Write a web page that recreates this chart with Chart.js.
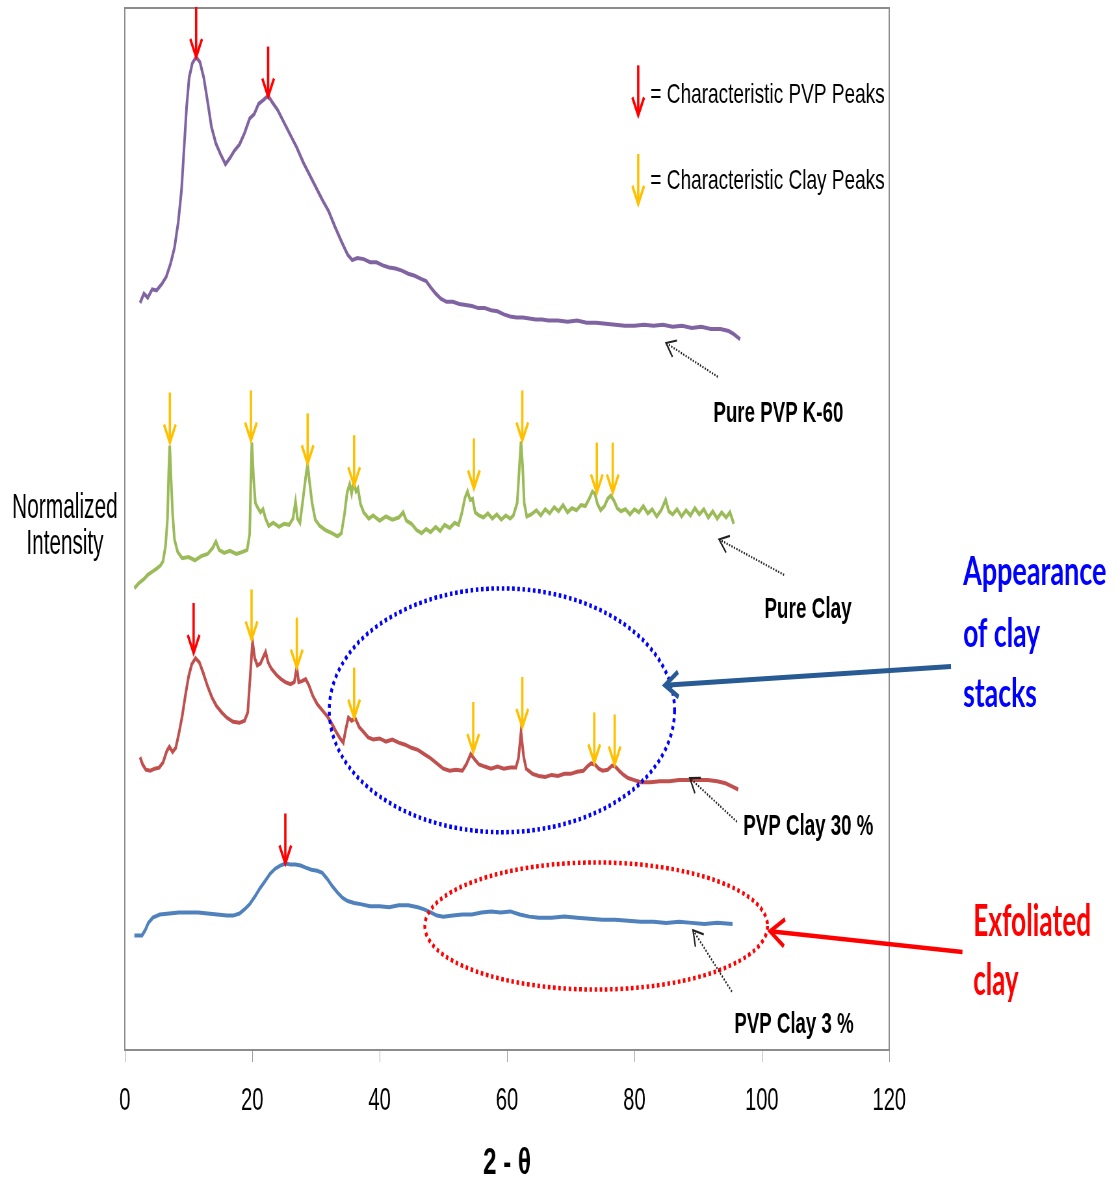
<!DOCTYPE html>
<html>
<head>
<meta charset="utf-8">
<title>XRD patterns</title>
<script src="https://cdn.jsdelivr.net/npm/chart.js@4.4.1/dist/chart.umd.min.js"></script>
<style>
  html, body { margin: 0; padding: 0; background: #fff; overflow: hidden; }
  /* the reference is a horizontally squeezed picture, so the whole chart is squeezed too */
  #wrap { width: 1718px; height: 1180px; transform: scaleX(0.65); transform-origin: 0 0; }
</style>
</head>
<body>
<div id="wrap"><canvas id="xrdChart"></canvas></div>
<script>
// x axis ticks
const xTicks = [0, 20, 40, 60, 80, 100, 120];

// Pure PVP K-60 (offset trace, top)
const pvpX = [2.4, 3.0, 3.6, 4.3, 5.0, 5.8, 6.5, 7.2, 7.8, 8.4, 8.9, 9.3, 9.7, 10.1, 10.6, 11.2, 11.8, 12.4, 13.0, 13.6,
  14.3, 15.0, 15.8, 16.5, 17.2, 18.0, 18.8, 19.6, 20.3, 21.0, 21.8, 22.5, 23.2, 24.0, 25.0, 26.0, 27.0, 28.0, 29.0, 30.0,
  31.0, 32.0, 33.0, 34.0, 35.0, 35.7, 36.5, 37.5, 38.5, 39.5, 40.5, 41.5, 42.5, 43.5, 44.5, 45.5, 46.5, 47.3, 48.0, 48.8,
  49.6, 50.5, 51.5, 52.5, 53.5, 54.5, 55.5, 56.5, 57.5, 58.5, 59.5, 60.5, 61.5, 62.5, 63.5, 64.5, 65.5, 66.5, 68.0, 69.5,
  71.0, 72.5, 74.0, 75.5, 77.0, 78.5, 80.0, 81.5, 83.0, 84.5, 86.0, 87.5, 89.0, 90.5, 92.0, 93.5, 94.8, 95.6, 96.6];
const pvpY = [71.7, 72.6, 72.2, 73.0, 72.9, 73.5, 74.2, 75.5, 77.0, 79.5, 82.5, 86.5, 90.5, 93.3, 94.7, 95.3, 94.8, 93.3, 91.0, 88.6,
  87.0, 86.0, 85.0, 85.6, 86.3, 86.9, 88.0, 89.4, 89.8, 90.8, 91.2, 91.6, 90.9, 90.2, 89.0, 87.8, 86.6, 85.2, 84.0, 82.8,
  81.6, 80.5, 79.0, 77.6, 76.3, 75.8, 76.0, 75.9, 75.6, 75.6, 75.3, 75.1, 75.0, 74.8, 74.5, 74.3, 74.0, 73.8, 73.2, 72.6,
  72.1, 71.8, 71.8, 71.6, 71.5, 71.4, 71.2, 71.2, 71.0, 70.9, 70.6, 70.4, 70.3, 70.3, 70.2, 70.1, 70.1, 70.0, 70.0, 69.9,
  70.0, 69.8, 69.8, 69.7, 69.6, 69.5, 69.5, 69.6, 69.5, 69.6, 69.4, 69.5, 69.3, 69.4, 69.2, 69.2, 69.0, 68.7, 68.2];

// Pure Clay
const clayX = [1.5, 2.2, 3.0, 3.6, 4.3, 5.0, 5.6, 6.0, 6.4, 6.7, 6.9, 7.05, 7.25, 7.5, 7.8, 8.3, 9.0, 10.0, 11.0, 12.0,
  13.0, 13.8, 14.3, 14.8, 15.6, 16.5, 17.5, 18.5, 19.2, 19.6, 19.8, 19.95, 20.2, 20.5, 20.9, 21.3, 21.7, 22.1, 22.6, 23.3,
  24.2, 25.0, 25.8, 26.4, 26.8, 27.1, 27.5, 28.0, 28.4, 28.7, 29.0, 29.4, 29.9, 30.6, 31.5, 32.5, 33.4, 34.0, 34.5, 34.9,
  35.3, 35.6, 35.9, 36.3, 36.6, 37.0, 37.5, 38.3, 39.0, 40.0, 41.0, 42.0, 43.0, 43.7, 44.2, 45.0, 45.8, 46.6, 47.3, 48.0,
  48.8, 49.5, 50.2, 51.0, 51.8, 52.4, 52.9, 53.4, 53.8, 54.2, 54.6, 55.0, 55.6, 56.3, 57.0, 57.7, 58.4, 59.1, 59.8, 60.5,
  61.0, 61.6, 61.95, 62.2, 62.45, 62.7, 63.1, 63.8, 64.6, 65.3, 66.0, 66.7, 67.4, 68.1, 68.8, 69.5, 70.2, 70.9, 71.6, 72.3,
  72.9, 73.4, 73.8, 74.2, 74.7, 75.3, 75.8, 76.3, 76.8, 77.3, 77.9, 78.6, 79.3, 80.0, 80.7, 81.4, 82.1, 82.8, 83.5, 84.2,
  84.9, 85.4, 86.0, 86.7, 87.4, 88.1, 88.8, 89.5, 90.2, 90.9, 91.6, 92.3, 93.0, 93.7, 94.4, 95.0, 95.6];
const clayY = [44.3, 44.8, 45.2, 45.6, 45.9, 46.2, 46.5, 46.9, 48.4, 51.0, 55.5, 58.0, 55.0, 51.5, 49.0, 47.8, 47.2, 47.3, 47.0, 47.4,
  47.6, 48.2, 48.8, 48.0, 47.7, 47.9, 47.6, 47.8, 48.0, 49.5, 55.0, 58.3, 55.0, 52.5, 52.0, 51.6, 51.9, 51.0, 50.3, 50.6,
  50.2, 50.5, 50.4, 51.0, 52.6, 51.0, 50.6, 53.0, 55.0, 56.2, 54.5, 52.5, 50.9, 50.3, 49.9, 49.6, 49.3, 49.6, 51.5, 53.5,
  54.3, 53.4, 54.5, 53.6, 53.9, 52.4, 51.6, 51.0, 51.3, 50.8, 51.2, 50.9, 51.1, 51.6, 50.8, 50.5, 49.9, 49.6, 50.0, 49.7,
  50.2, 49.8, 50.4, 50.1, 50.6, 50.4, 51.5, 53.0, 53.6, 52.8, 52.9, 51.6, 51.3, 51.1, 51.5, 51.0, 51.4, 50.9, 51.3, 51.0,
  51.3, 52.5, 56.0, 58.4, 56.0, 52.5, 51.2, 51.4, 51.8, 51.3, 51.9, 51.5, 52.1, 51.7, 52.3, 51.6, 52.0, 51.8, 52.3, 52.2,
  52.9, 53.6, 53.4, 52.4, 51.8, 52.2, 52.9, 53.2, 52.7, 52.0, 51.7, 51.9, 51.4, 51.9, 51.6, 52.2, 51.5, 51.9, 51.2, 51.8,
  52.8, 51.7, 51.4, 51.9, 51.2, 51.8, 51.3, 52.0, 51.4, 51.9, 51.1, 51.7, 51.0, 51.6, 51.1, 51.6, 50.5];

// PVP Clay 30 %
const clay30X = [2.4, 2.8, 3.3, 4.0, 4.7, 5.4, 6.0, 6.6, 7.0, 7.5, 8.0, 8.5, 9.0, 9.5, 10.0, 10.5, 11.1, 11.7, 12.3, 13.0,
  13.7, 14.4, 15.2, 16.0, 17.0, 18.0, 18.8, 19.3, 19.7, 20.05, 20.4, 20.8, 21.3, 21.8, 22.1, 22.5, 23.0, 23.8, 24.5, 25.2,
  26.0, 26.6, 27.0, 27.3, 27.8, 28.4, 28.9, 29.5, 30.2, 31.0, 31.8, 32.6, 33.2, 33.8, 34.3, 34.7, 35.1, 35.6, 36.2, 36.8,
  37.5, 38.2, 39.0, 40.0, 41.0, 42.0, 43.0, 44.0, 45.0, 46.0, 47.0, 48.0, 49.0, 50.0, 51.0, 52.0, 53.0, 53.6, 54.3, 54.9,
  55.6, 56.5, 57.5, 58.5, 59.5, 60.5, 61.4, 61.8, 62.2, 62.6, 63.0, 64.0, 65.0, 66.0, 67.0, 68.0, 69.0, 70.0, 71.0, 72.0,
  72.6, 73.2, 73.8, 74.4, 75.0, 75.8, 76.5, 77.0, 77.6, 78.3, 79.0, 80.0, 81.0, 82.5, 84.0, 85.5, 87.0, 88.5, 90.0, 91.5,
  93.0, 94.3, 95.3, 96.3];
const clay30Y = [28.1, 27.4, 26.9, 26.8, 27.0, 27.1, 27.6, 28.7, 29.1, 28.6, 29.0, 30.4, 32.0, 34.0, 35.8, 37.0, 37.6, 37.2, 36.2, 34.9,
  33.8, 33.0, 32.4, 31.9, 31.5, 31.4, 31.6, 32.4, 36.0, 39.2, 37.6, 36.9, 37.1, 37.8, 38.2, 37.2, 36.6, 36.0, 35.6, 35.3,
  35.1, 35.3, 36.7, 35.3, 35.4, 35.6, 35.0, 34.0, 33.2, 32.6, 32.0, 31.2, 30.5, 29.9, 29.5, 30.8, 31.9, 31.6, 31.8, 31.0,
  30.5, 30.0, 29.8, 29.9, 29.6, 29.8, 29.5, 29.3, 29.0, 28.8, 28.4, 28.0, 27.5, 27.0, 26.8, 26.9, 26.8, 27.4, 28.4, 27.9,
  27.4, 27.2, 27.0, 27.2, 27.0, 27.1, 27.1, 28.0, 30.5, 28.2, 27.0, 26.5, 26.3, 26.2, 26.4, 26.3, 26.5, 26.5, 26.7, 26.8,
  27.2, 27.5, 27.4, 27.0, 26.8, 26.9, 27.3, 27.2, 26.8, 26.4, 26.1, 25.9, 25.7, 25.7, 25.8, 25.8, 25.9, 25.9, 25.9, 25.9,
  25.8, 25.6, 25.3, 25.0];

// PVP Clay 3 %
const clay3X = [1.5, 2.7, 3.2, 3.7, 4.4, 5.5, 7.0, 8.5, 10.0, 11.5, 13.0, 14.5, 16.0, 17.0, 18.0, 18.8, 19.6, 20.4, 21.2, 22.0,
  22.8, 23.6, 24.4, 25.2, 26.0, 26.8, 27.6, 28.4, 29.3, 30.2, 31.0, 31.8, 32.6, 33.4, 34.2, 35.0, 36.0, 37.0, 38.5, 40.0,
  41.5, 43.0, 44.5, 46.0, 47.0, 48.0, 49.0, 50.0, 51.5, 53.0, 54.5, 56.0, 57.5, 59.0, 60.5, 62.0, 63.5, 65.0, 67.0, 69.0,
  71.0, 73.0, 75.0, 77.0, 79.0, 81.0, 83.0, 85.0, 87.0, 89.0, 91.0, 93.0, 95.4];
const clay3Y = [11.0, 11.0, 11.5, 12.2, 12.7, 13.0, 13.1, 13.2, 13.2, 13.2, 13.1, 13.0, 12.9, 12.9, 13.1, 13.5, 14.0, 14.7, 15.5, 16.2,
  16.9, 17.4, 17.7, 17.9, 17.8, 17.8, 17.7, 17.5, 17.3, 17.2, 17.0, 16.4, 15.7, 15.1, 14.6, 14.3, 14.1, 14.0, 13.8, 13.8,
  13.7, 13.9, 13.9, 13.7, 13.5, 13.2, 12.9, 12.8, 12.9, 13.0, 13.0, 13.2, 13.3, 13.2, 13.3, 13.0, 12.8, 12.7, 12.7, 12.8,
  12.7, 12.6, 12.5, 12.5, 12.4, 12.3, 12.3, 12.2, 12.3, 12.2, 12.1, 12.2, 12.1];

// peak markers: [2-theta, tip of arrow]
const pvpPeaks = [[11.2, 95.3], [22.5, 91.5], [10.8, 38.1], [25.2, 17.9]];
const clayPeaks = [[7.07, 58.3], [19.8, 58.5], [28.7, 56.3], [36.0, 54.2], [54.8, 53.9], [62.4, 58.5], [74.1, 53.5], [76.6, 53.5],
  [19.9, 39.4], [27.0, 36.7], [36.0, 31.9], [54.7, 28.6], [62.4, 31.0], [73.7, 27.6], [76.9, 27.4]];

const RED = '#FF0000';
const GOLD = '#FFC000';
const SANS = '"Liberation Sans", Arial, sans-serif';

function series(xs, ys) {
  return xs.map((x, i) => ({ x: x, y: ys[i] }));
}

function fitText(ctx, text, x, y, font, color, width, align) {
  ctx.save();
  ctx.font = font;
  ctx.fillStyle = color;
  ctx.textAlign = align || 'left';
  ctx.textBaseline = 'alphabetic';
  const k = width / ctx.measureText(text).width;
  ctx.translate(x, y);
  ctx.scale(k, 1);
  ctx.fillText(text, 0, 0);
  ctx.restore();
}

function downArrow(ctx, x, tip, color) {
  ctx.save();
  ctx.strokeStyle = color;
  ctx.lineWidth = 3.6;
  ctx.beginPath();
  ctx.moveTo(x, tip - 50);
  ctx.lineTo(x, tip - 3);
  ctx.stroke();
  ctx.beginPath();
  ctx.moveTo(x - 9, tip - 18);
  ctx.lineTo(x, tip);
  ctx.lineTo(x + 9, tip - 18);
  ctx.stroke();
  ctx.restore();
}

function pointer(ctx, x0, y0, x1, y1, color, width, dash, head) {
  ctx.save();
  ctx.strokeStyle = color;
  ctx.lineWidth = width;
  ctx.setLineDash(dash);
  ctx.beginPath();
  ctx.moveTo(x0, y0);
  ctx.lineTo(x1, y1);
  ctx.stroke();
  ctx.setLineDash([]);
  const a = Math.atan2(y1 - y0, x1 - x0);
  ctx.beginPath();
  ctx.moveTo(x1 - head * Math.cos(a - 0.55), y1 - head * Math.sin(a - 0.55));
  ctx.lineTo(x1, y1);
  ctx.lineTo(x1 - head * Math.cos(a + 0.55), y1 - head * Math.sin(a + 0.55));
  ctx.stroke();
  ctx.restore();
}

const overlay = {
  id: 'overlay',
  beforeDatasetsDraw(chart) {
    const { ctx, chartArea: a } = chart;
    ctx.save();
    ctx.strokeStyle = '#8c8c8c';
    ctx.lineWidth = 2;
    ctx.strokeRect(a.left, a.top, a.right - a.left, a.bottom - a.top);
    ctx.restore();
  },
  afterDraw(chart) {
    const ctx = chart.ctx;
    const sx = chart.scales.x, sy = chart.scales.y;
    const X = v => sx.getPixelForValue(v);
    const Y = v => sy.getPixelForValue(v);
    const unit = X(1) - X(0);

    // dotted ellipses
    [[59.2, 32.6, 27.1, 11.7, '#0000FF'], [74.0, 11.9, 26.9, 6.1, RED]].forEach(e => {
      ctx.save();
      ctx.strokeStyle = e[4];
      ctx.lineWidth = 4.5;
      ctx.setLineDash([4, 4]);
      ctx.beginPath();
      ctx.ellipse(X(e[0]), Y(e[1]), e[2] * unit, Y(0) - Y(e[3]), 0, 0, Math.PI * 2);
      ctx.stroke();
      ctx.restore();
    });

    // peak arrows
    pvpPeaks.forEach(p => downArrow(ctx, X(p[0]), Y(p[1]), RED));
    clayPeaks.forEach(p => downArrow(ctx, X(p[0]), Y(p[1]), GOLD));

    // legend
    downArrow(ctx, X(80.6), Y(89.7), RED);
    downArrow(ctx, X(80.6), Y(81.2), GOLD);
    fitText(ctx, '= Characteristic PVP Peaks', X(82.5), Y(90.9), '28px ' + SANS, '#000', 36.8 * unit);
    fitText(ctx, '= Characteristic Clay Peaks', X(82.5), Y(82.6), '28px ' + SANS, '#000', 36.8 * unit);

    // dotted pointers to the traces
    [[93.1, 64.6, 84.97, 67.85], [103.5, 45.6, 93.3, 49.0], [96.1, 21.9, 88.7, 26.1], [95.3, 5.6, 89.2, 11.5]]
      .forEach(p => pointer(ctx, X(p[0]), Y(p[1]), X(p[2]), Y(p[3]), '#222', 2.2, [2, 2], 17));

    const bold = 'bold 30px ' + SANS;
    fitText(ctx, 'Pure PVP K-60', X(92.4), Y(60.3), bold, '#000', 20.4 * unit);
    fitText(ctx, 'Pure Clay', X(100.4), Y(41.5), bold, '#000', 13.7 * unit);
    fitText(ctx, 'PVP Clay 30 %', X(97.1), Y(20.6), bold, '#000', 20.4 * unit);
    fitText(ctx, 'PVP Clay 3 %', X(95.7), Y(1.6), bold, '#000', 18.7 * unit);

    // callouts
    pointer(ctx, X(129.7), Y(36.8), X(84.8), Y(35.0), '#285A94', 5, [], 24);
    pointer(ctx, X(131.5), Y(9.4), X(101.3), Y(11.4), RED, 4.5, [], 26);
    const cal = 'bold 40px Lato, "Open Sans", sans-serif';
    fitText(ctx, 'Appearance', X(131.6), Y(44.6), cal, '#0000FF', 22.5 * unit);
    fitText(ctx, 'of clay', X(131.6), Y(38.7), cal, '#0000FF', 12.1 * unit);
    fitText(ctx, 'stacks', X(131.6), Y(32.9), cal, '#0000FF', 11.6 * unit);
    const cal2 = 'bold 43px Lato, "Open Sans", sans-serif';
    fitText(ctx, 'Exfoliated', X(133.2), Y(10.9), cal2, RED, 18.5 * unit);
    fitText(ctx, 'clay', X(133.2), Y(5.3), cal2, RED, 7.1 * unit);

    // y axis title, written flat in two lines
    fitText(ctx, 'Normalized', X(-9.4), Y(51.1), '35px ' + SANS, '#000', 16.6 * unit, 'center');
    fitText(ctx, 'Intensity', X(-9.4), Y(47.6), '35px ' + SANS, '#000', 12.1 * unit, 'center');
  }
};

Chart.defaults.font.family = SANS;

const xrdChart = new Chart(document.getElementById('xrdChart').getContext('2d'), {
  type: 'line',
  data: {
    datasets: [
      { label: 'Pure PVP K-60', data: series(pvpX, pvpY), borderColor: '#8064A2' },
      { label: 'Pure Clay', data: series(clayX, clayY), borderColor: '#9BBB59' },
      { label: 'PVP Clay 30 %', data: series(clay30X, clay30Y), borderColor: '#C0504D' },
      { label: 'PVP Clay 3 %', data: series(clay3X, clay3Y), borderColor: '#4F81BD' }
    ]
  },
  options: {
    responsive: true,
    maintainAspectRatio: false,
    animation: false,
    events: [],
    elements: {
      line: { borderWidth: 4, tension: 0 },
      point: { radius: 0 }
    },
    layout: { padding: { top: 8, right: 350, bottom: 0, left: 0 } },
    plugins: { legend: { display: false }, tooltip: { enabled: false } },
    scales: {
      x: {
        type: 'linear',
        min: 0,
        max: 120,
        afterBuildTicks: s => { s.ticks = xTicks.map(v => ({ value: v })); },
        afterFit: s => { s.height = 130; },
        grid: { drawOnChartArea: false, drawTicks: true, tickLength: 12, color: '#999' },
        border: { display: false },
        ticks: { color: '#000', font: { size: 31 }, padding: 21 },
        title: { display: true, text: '2 - θ', color: '#000', font: { size: 37, weight: 'bold', lineHeight: 1 }, padding: { top: 0, bottom: -2 } }
      },
      y: {
        min: 0,
        max: 100,
        afterFit: s => { s.width = 192; },
        grid: { display: false },
        border: { display: false },
        ticks: { display: false }
      }
    }
  },
  plugins: [overlay]
});
</script>
</body>
</html>
